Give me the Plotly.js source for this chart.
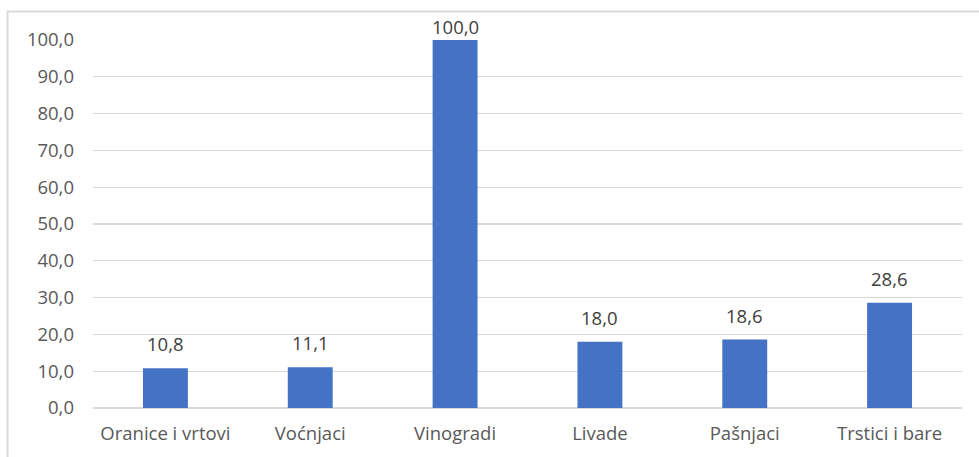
<!DOCTYPE html>
<html>
<head>
<meta charset="utf-8">
<script src="https://cdn.plot.ly/plotly-3.0.1.min.js"></script>
<style>
html,body{margin:0;padding:0;background:#fff;overflow:hidden;}
#chart{width:979px;height:457px;}
</style>
</head>
<body>
<div id="chart"></div>
<script>
const categories = ["Oranice i vrtovi", "Voćnjaci", "Vinogradi", "Livade", "Pašnjaci", "Trstici i bare"];
const values = [10.8, 11.1, 100.0, 18.0, 18.6, 28.6];
const tickValues = [0, 10, 20, 30, 40, 50, 60, 70, 80, 90, 100];
const tickLabels = tickValues.map(v => v.toFixed(1).replace('.', ','));

const W = 979, H = 457;
const margin = {l: 93, r: 17, t: 40, b: 49, pad: 0};
const pw = W - margin.l - margin.r, ph = H - margin.t - margin.b;
const px2x = p => (p - margin.l) / pw;
const py2y = p => (H - margin.b - p) / ph;

const fontFam = "'Open Sans', 'Liberation Sans', sans-serif";
const textCol = '#595959';
const fs = 18.5;
const yMax = 100;

const annotations = categories.map((c, i) => ({
  x: c, y: values[i], xref: 'x', yref: 'y',
  text: values[i].toFixed(1).replace('.', ','),
  showarrow: false, yanchor: 'bottom',
  yshift: values[i] >= yMax ? -1 : 10,
  font: {family: fontFam, size: fs, color: '#404040'}
}));

const data = [{
  type: 'bar',
  x: categories,
  y: values,
  marker: {color: '#4472C4'},
  hoverinfo: 'none'
}];

const layout = {
  width: W, height: H,
  margin: margin,
  paper_bgcolor: '#fff', plot_bgcolor: '#fff',
  showlegend: false,
  bargap: 0.69,
  font: {family: fontFam, size: fs, color: textCol},
  xaxis: {
    type: 'category',
    showgrid: false, showline: false, zeroline: false,
    ticks: '', ticklabelstandoff: 12,
    tickfont: {family: fontFam, size: fs, color: textCol}
  },
  yaxis: {
    range: [0, 100], fixedrange: true,
    tickvals: tickValues, ticktext: tickLabels,
    showgrid: true, gridcolor: '#d9d9d9', gridwidth: 1.3,
    zeroline: true, zerolinecolor: '#d9d9d9', zerolinewidth: 1.3,
    showline: false, ticks: '', ticklabelstandoff: 18,
    tickfont: {family: fontFam, size: fs, color: textCol}
  },
  annotations: annotations,
  shapes: [{
    type: 'rect', xref: 'paper', yref: 'paper', layer: 'below',
    x0: px2x(7.5), x1: px2x(990), y0: py2y(470), y1: py2y(11.5),
    line: {color: '#d9d9d9', width: 2}, fillcolor: 'rgba(0,0,0,0)'
  }]
};

Plotly.newPlot('chart', data, layout, {displayModeBar: false, staticPlot: true});
</script>
</body>
</html>
